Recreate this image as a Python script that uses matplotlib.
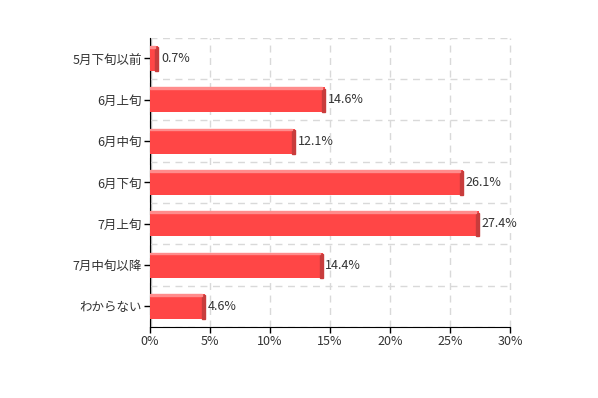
import numpy as np
import matplotlib.pyplot as plt
from matplotlib.patches import Rectangle

plt.rcParams['font.family'] = ['Noto Sans CJK JP', 'DejaVu Sans']

categories = ['5月下旬以前', '6月上旬', '6月中旬', '6月下旬', '7月上旬', '7月中旬以降', 'わからない']
values = [0.7, 14.6, 12.1, 26.1, 27.4, 14.4, 4.6]
xticks = [0, 5, 10, 15, 20, 25, 30]

fig = plt.figure(figsize=(5.98, 3.98), dpi=100)
ax = fig.add_axes([0.251, 0.178, 0.602, 0.727])

n = len(categories)
y = np.arange(n)
h = 0.6
ax.barh(y, values, height=h, color='#ff4646', zorder=3)

# fake 3D look: thin dark right side, faint light top strip
for yi, v in zip(y, values):
    ax.add_patch(Rectangle((v - 0.25, yi - h / 2 + 0.03), 0.25, h - 0.03, color='#c83c3c', zorder=4))
    ax.add_patch(Rectangle((0, yi - h / 2), v - 0.25, 0.035, color='#ff8c8c', zorder=4))
    ax.text(v + 0.2, yi, f'{v}%', va='center', ha='left', fontsize=9, color='#333333', zorder=5)

ax.set_xlim(0, 30)
ax.set_ylim(n - 0.5, -0.5)
ax.set_xticks(xticks)
ax.set_xticklabels([f'{t}%' for t in xticks], fontsize=9, color='#333333')
ax.set_yticks(y)
ax.set_yticklabels(categories, fontsize=9, color='#333333')
ax.set_yticks(np.arange(-0.5, n, 1), minor=True)
ax.tick_params(axis='y', which='minor', length=0)
ax.tick_params(axis='both', which='major', length=4, width=1, color='black', pad=2)

ax.grid(axis='x', which='major', color='#d9d9d9', linestyle=(0, (5, 4)), linewidth=1, zorder=0)
ax.grid(axis='y', which='minor', color='#d9d9d9', linestyle=(0, (5, 4)), linewidth=1, zorder=0)
for gl in ax.get_xgridlines():
    gl.set_clip_on(False)
ax.axvline(0.08, color='#bbbbbb', linewidth=1, zorder=1)

for s in ['top', 'right']:
    ax.spines[s].set_visible(False)
ax.spines['left'].set_color('black')
ax.spines['bottom'].set_color('black')

fig.savefig('out.png', dpi=100)
